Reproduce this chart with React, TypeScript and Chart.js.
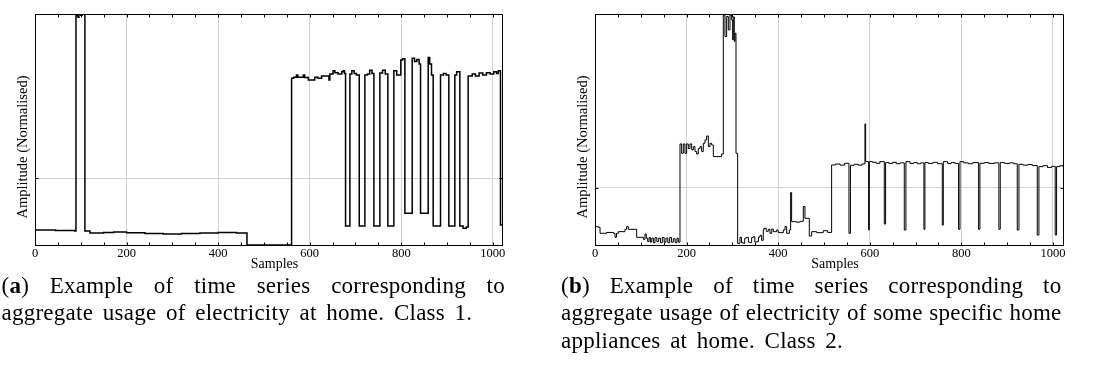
import React, { useEffect, useRef } from "react";
import { Chart, registerables } from "chart.js";

Chart.register(...registerables);

// ---------- shared axis text ----------
const X_TICKS = [0, 200, 400, 600, 800, 1000];
const X_MINOR_STEP = 50;
const X_LABEL = "Samples";
const Y_LABEL = "Amplitude (Normalised)";

// ---------- (a) Class 1 series: sample index where a level starts, and the level ----------
const class1Samples = [
  0, 45, 87, 89.5, 92, 94, 96, 100, 103, 109, 120, 150, 172, 200, 240, 280, 320, 360, 400, 440,
  463, 560.4, 565, 571, 574, 586, 589, 597, 611, 618, 626, 642, 644, 651, 655, 662, 670, 673, 676,
  678.3, 687.8, 692, 697, 702, 708.2, 720.5, 726, 731, 736, 740.2, 753.3, 759, 765, 770.7,
  783.8, 790, 799, 803, 807.9, 823.9, 829, 834, 839, 842.1, 858.8, 862, 866, 869.7,
  885.7, 892, 898, 903.9, 917, 921, 927.9, 935, 942, 946.1, 955, 962, 970, 978, 986, 994,
  1002, 1008, 1012, 1016.7, 1020,
];
const class1Values = [
  -0.776, -0.784, -0.791, 2.448, 2.42, 2.4, 2.448, 2.43, 2.448, -0.791, -0.821, -0.815, -0.806,
  -0.818, -0.828, -0.836, -0.828, -0.821, -0.813, -0.821,
  -1.0, 1.488, 1.503, 1.537, 1.503, 1.537, 1.5, 1.463, 1.503, 1.49, 1.522, 1.463, 1.552, 1.601,
  1.572, 1.552, 1.585, 1.601, 1.56,
  -0.716, 1.552, 1.601, 1.56, 1.537, -0.716, 1.537, 1.552, 1.61, 1.56, -0.716, 1.567, 1.61, 1.552,
  -0.716, 1.601, 1.537, 1.761, 1.78, -0.527, 1.786, 1.74, 1.77, 1.7, -0.527, 1.8, 1.7, 1.537,
  -0.716, 1.537, 1.56, 1.537, -0.716, 1.537, 1.587, -0.716, -0.751, -0.73, 1.522, 1.552, 1.522,
  1.567, 1.537, 1.572, 1.552, 1.587, 1.56, 1.6, -0.7, -0.7,
];

// ---------- (b) Class 2 series ----------
const class2Samples = [
  0, 7, 11, 25, 40, 43.7, 47, 51, 65.5, 69, 72.8, 91, 105.6, 109.2, 112,
  115, 118, 121, 124, 128, 131, 135, 139, 143, 147, 151, 155, 159, 163, 167, 171, 175, 179, 182,
  185.6, 189.2, 192.9, 196.5, 200.1, 203.8, 207.4, 211.1, 214.7, 218.3, 222, 225.6, 229.3, 232.9,
  236.5, 240.2, 243.8, 247.5, 251.1, 254.7, 258.4, 276.6,
  280.2, 283.8, 287.5, 291.1, 294.8, 298.4, 300.6, 302, 304.2, 305.7, 307.9, 311.5,
  316.6, 320, 323.9, 327, 331.1, 335, 338.4, 342, 345.7, 349, 353, 357, 360.3, 363.9,
  367.5, 369, 374, 378.5, 382.1, 386, 389.4, 396.7, 400, 403.9, 411.2, 414.8, 418.5, 424.3,
  427.2, 429.4, 440, 448, 454.9, 458.5, 468, 473.1, 484, 498.5, 508,
  516.7, 525, 535, 545, 554.6, 557.8, 566, 575, 583, 589.5, 591, 597.5, 599, 606, 614, 622,
  631.7, 634.6, 642, 650, 658, 666, 675.4, 679, 688, 696, 704, 711, 718.3, 720.5, 728, 738, 748,
  758.4, 760.6, 770, 778, 786, 794, 797, 805, 815, 825, 837.7, 840.6, 850, 860, 872,
  882, 885, 895, 905, 914, 922.1, 925.8, 935, 945, 955, 965.8, 969.4, 978, 988, 997,
  1005, 1008, 1015, 1022,
];
const class2Values = [
  -0.678, -0.69, -0.795, -0.78, -0.795, -0.865, -0.795, -0.766, -0.725, -0.678, -0.725, -0.865,
  -0.9, -0.807, -0.88,
  -0.94, -0.87, -0.95, -0.88, -0.96, -0.87, -0.94, -0.88, -0.96, -0.87, -0.95, -0.88, -0.96,
  -0.87, -0.95, -0.89, -0.96, -0.88, -0.95,
  0.772, 0.608, 0.772, 0.608, 0.772, 0.69, 0.772, 0.667, 0.725, 0.64, 0.596, 0.69, 0.725, 0.64,
  0.784, 0.842, 0.912, 0.725, 0.784, 0.754, 0.55, 0.596,
  3.035, 2.655, 3.006, 2.772, 3.035, 2.947, 2.596, 3.0, 2.567, 2.713, 0.608, -0.971,
  -0.865, -0.96, -0.971, -0.88, -0.865, -0.95, -0.959, -0.87, -0.854, -0.95, -0.942, -0.86,
  -0.83, -0.918,
  -0.737, -0.708, -0.76, -0.725, -0.795, -0.72, -0.766, -0.737, -0.78, -0.784, -0.737, -0.678,
  -0.795, -0.737,
  -0.082, -0.591, -0.6, -0.585, -0.327, -0.532, -0.842, -0.766, -0.784, -0.749, -0.78,
  0.404, 0.42, 0.4, 0.433, -0.795, 0.398, 0.415, 0.4, 0.42, 1.123, 0.462, -0.737, 0.462, 0.45,
  0.433, 0.462,
  -0.632, 0.445, 0.43, 0.45, 0.425, 0.44, -0.737, 0.462, 0.43, 0.445, 0.425, 0.44, -0.725, 0.445,
  0.43, 0.45, 0.425,
  -0.65, 0.462, 0.43, 0.445, 0.43, -0.725, 0.462, 0.44, 0.425, 0.445, -0.725, 0.433, 0.445, 0.43,
  0.44,
  -0.725, 0.445, 0.43, 0.44, 0.425, -0.737, 0.415, 0.4, 0.41, 0.395, -0.825, 0.374, 0.39, 0.36,
  0.38,
  -0.825, 0.374, 0.39, 0.374,
];

// ---------- captions ----------
const captionALabel = "a";
const captionALines = [
  " Example of time series corresponding to",
  "aggregate usage of electricity at home. Class 1.",
];
const captionBLabel = "b";
const captionBLines = [
  " Example of time series corresponding to",
  "aggregate usage of electricity of some specific home",
  "appliances at home. Class 2.",
];

const SERIF = '"Liberation Serif", "DejaVu Serif", serif';

const framePlugin = {
  id: "frame",
  afterDraw(chart: any) {
    const { ctx, chartArea, scales } = chart;
    const { left, right, top, bottom } = chartArea;
    const xs = scales.x;
    const ys = scales.y;
    ctx.save();
    ctx.strokeStyle = "#000";
    ctx.lineWidth = 1;
    const T = Math.round(top) + 0.5;
    const B = Math.round(bottom) + 0.5;
    const L = Math.round(left) + 0.5;
    const R = Math.round(right) + 0.5;
    ctx.beginPath();
    ctx.moveTo(L, T);
    ctx.lineTo(R, T);
    ctx.lineTo(R, B);
    ctx.stroke();
    // inward minor ticks
    ctx.beginPath();
    for (let v = 0; v <= xs.max; v += X_MINOR_STEP) {
      const px = Math.round(xs.getPixelForValue(v)) + 0.5;
      ctx.moveTo(px, T);
      ctx.lineTo(px, T + 3);
      ctx.moveTo(px, B);
      ctx.lineTo(px, B - 3);
    }
    const py0 = Math.round(ys.getPixelForValue(0)) + 0.5;
    ctx.moveTo(L, py0);
    ctx.lineTo(L + 3, py0);
    ctx.moveTo(R, py0);
    ctx.lineTo(R - 3, py0);
    ctx.stroke();
    // axis titles
    ctx.fillStyle = "#000";
    ctx.font = `14px ${SERIF}`;
    ctx.textAlign = "center";
    ctx.textBaseline = "middle";
    ctx.fillText(X_LABEL, (left + right) / 2 + 6, bottom + 19);
    ctx.translate(left - 12, (top + bottom) / 2 + 17.5);
    ctx.rotate(-Math.PI / 2);
    ctx.font = `14.5px ${SERIF}`;
    ctx.fillText(Y_LABEL, 0, 0);
    ctx.restore();
  },
};

type PanelProps = {
  xs: number[];
  ys: number[];
  yMin: number;
  yMax: number;
  xMax: number;
  lineWidth: number;
  padLeft: number;
  padRight: number;
  left: number;
};

function Panel({ xs, ys, yMin, yMax, xMax, lineWidth, padLeft, padRight, left }: PanelProps) {
  const ref = useRef<HTMLCanvasElement>(null);
  useEffect(() => {
    const chart = new Chart(ref.current as HTMLCanvasElement, {
      type: "line",
      data: {
        datasets: [
          {
            data: xs.map((x, i) => ({ x, y: ys[i] })),
            borderColor: "#000",
            borderWidth: lineWidth,
            pointRadius: 0,
            stepped: true,
            fill: false,
          },
        ],
      },
      options: {
        animation: false,
        responsive: false,
        maintainAspectRatio: false,
        layout: { padding: { left: padLeft, right: padRight, top: 14, bottom: 0 } },
        plugins: { legend: { display: false }, tooltip: { enabled: false } },
        scales: {
          x: {
            type: "linear",
            min: 0,
            max: xMax,
            afterBuildTicks: (s: any) => {
              s.ticks = X_TICKS.map((v) => ({ value: v }));
            },
            afterFit: (s: any) => {
              s.height = 35;
            },
            ticks: {
              font: { family: SERIF, size: 12.5 },
              color: "#000",
              padding: 1,
              maxRotation: 0,
              autoSkip: false,
              callback: (v: any) => String(v),
            },
            grid: { color: "#d2d2d2", drawTicks: false, lineWidth: 1 },
            border: { color: "#000", width: 1 },
          },
          y: {
            type: "linear",
            min: yMin,
            max: yMax,
            afterBuildTicks: (s: any) => {
              s.ticks = [{ value: 0 }];
            },
            afterFit: (s: any) => {
              s.width = 0;
            },
            ticks: { display: false },
            grid: { color: "#d2d2d2", drawTicks: false, lineWidth: 1 },
            border: { color: "#000", width: 1 },
          },
        },
      } as any,
      plugins: [framePlugin],
    });
    return () => chart.destroy();
  }, []);
  return (
    <canvas
      ref={ref}
      width={548}
      height={280}
      style={{ position: "absolute", left, top: 0, width: 548, height: 280 }}
    />
  );
}

function Caption({ label, lines, left, width }: { label: string; lines: string[]; left: number; width: number }) {
  return (
    <div
      style={{
        position: "absolute",
        left,
        top: 271.5,
        width,
        fontFamily: SERIF,
        fontSize: 23,
        lineHeight: "27.5px",
        letterSpacing: "0.25px",
        color: "#000",
      }}
    >
      {lines.map((ln, i) => {
        const last = i === lines.length - 1;
        return (
          <div
            key={i}
            style={{
              whiteSpace: "nowrap",
              textAlign: last ? "left" : "justify",
              textAlignLast: last ? "left" : "justify",
              wordSpacing: last ? "3.6px" : "0px",
            } as any}
          >
            {i === 0 ? (
              <>
                (<b>{label}</b>){ln}
              </>
            ) : (
              ln
            )}
          </div>
        );
      })}
    </div>
  );
}

export default function App() {
  return (
    <div style={{ position: "absolute", left: 0, top: 0, width: 1096, height: 367, background: "#fff", overflow: "hidden" }}>
      <Panel xs={class1Samples} ys={class1Values} yMin={-1} yMax={2.448} xMax={1020} lineWidth={1.5} padLeft={35} padRight={46} left={0} />
      <Panel xs={class2Samples} ys={class2Values} yMin={-1} yMax={3.05} xMax={1022} lineWidth={1} padLeft={47} padRight={33} left={548} />
      <Caption label={captionALabel} lines={captionALines} left={1.5} width={503.5} />
      <Caption label={captionBLabel} lines={captionBLines} left={561} width={500.5} />
    </div>
  );
}
